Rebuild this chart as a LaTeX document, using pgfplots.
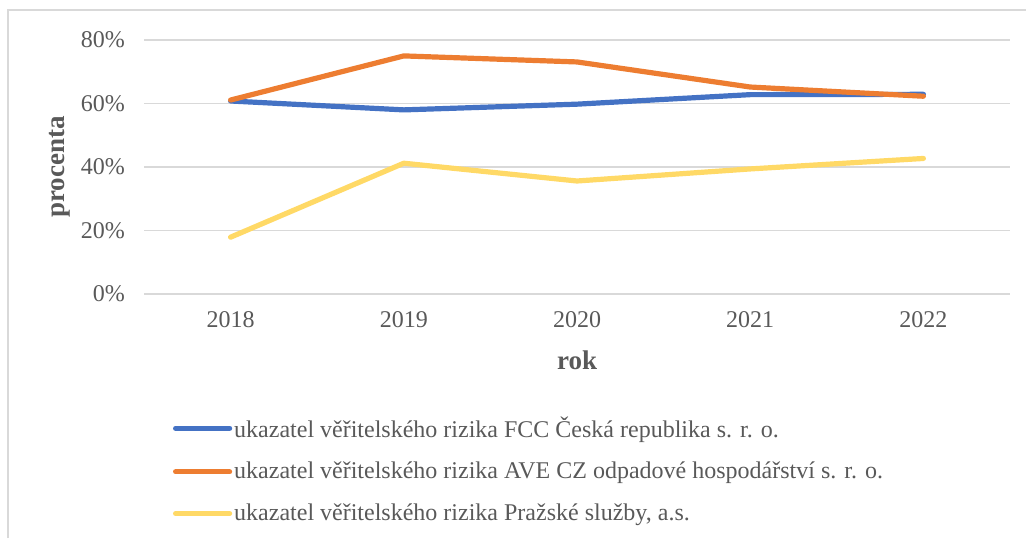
\documentclass[border=0pt]{standalone}
\usepackage{pgfplots}
\pgfplotsset{compat=1.18}
\usepackage{fontspec}
\setmainfont{Liberation Serif}
\definecolor{txt}{HTML}{595959}
\definecolor{grd}{HTML}{D9D9D9}
\definecolor{sblue}{HTML}{4472C4}
\definecolor{sorange}{HTML}{ED7D31}
\definecolor{syellow}{HTML}{FFD966}

\begin{document}
\begin{tikzpicture}
\useasboundingbox (0,0) rectangle (513pt,-269pt);
\draw[grd, line width=0.75pt] (4pt,-269pt) -- (4pt,-5pt) -- (513pt,-5pt);
\begin{axis}[
  at={(72pt,-147pt)}, anchor=south west,
  scale only axis, width=433pt, height=127pt,
  xmin=-0.5, xmax=4.5, ymin=0, ymax=80,
  xtick={0,1,2,3,4}, xticklabels={2018,2019,2020,2021,2022},
  ytick={0,20,40,60,80}, yticklabels={0\%,20\%,40\%,60\%,80\%},
  axis line style={draw=none}, major tick length=0pt,
  ymajorgrids, grid style={grd, line width=0.8pt},
  tick label style={font=\fontsize{12}{14}\selectfont, text=txt},
  yticklabel style={xshift=-6pt},
  xticklabel style={yshift=-5pt},
  xlabel={rok}, ylabel={procenta},
  label style={font=\fontsize{13.5}{15}\selectfont\bfseries, text=txt},
  xlabel style={at={(axis description cs:0.5,-0.26)}, anchor=center},
  ylabel style={at={(axis description cs:-0.097,0.5)}, anchor=center},
  legend style={at={(axis description cs:0.0335,-0.474)}, anchor=north west,
    draw=none, fill=none, inner sep=0pt, outer sep=0pt,
    font=\fontsize{12}{14}\selectfont, text=txt, row sep=9pt,
    nodes={inner sep=1pt}},
  legend cell align=left,
  legend image code/.code={\draw[#1, line cap=round] (0pt,0pt) -- (27pt,0pt);},
  every axis plot/.append style={line width=2.6pt, line cap=round, line join=round},
]
\addplot[sblue] coordinates {(0,60.8) (1,58.0) (2,59.8) (3,62.8) (4,62.9)};
\addlegendentry{ukazatel věřitelského rizika FCC Česká republika s. r. o.}
\addplot[sorange] coordinates {(0,61.1) (1,75.0) (2,73.1) (3,65.2) (4,62.3)};
\addlegendentry{ukazatel věřitelského rizika AVE CZ odpadové hospodářství s. r. o.}
\addplot[syellow] coordinates {(0,17.9) (1,41.2) (2,35.6) (3,39.4) (4,42.7)};
\addlegendentry{ukazatel věřitelského rizika Pražské služby, a.s.}
\end{axis}
\end{tikzpicture}
\end{document}
